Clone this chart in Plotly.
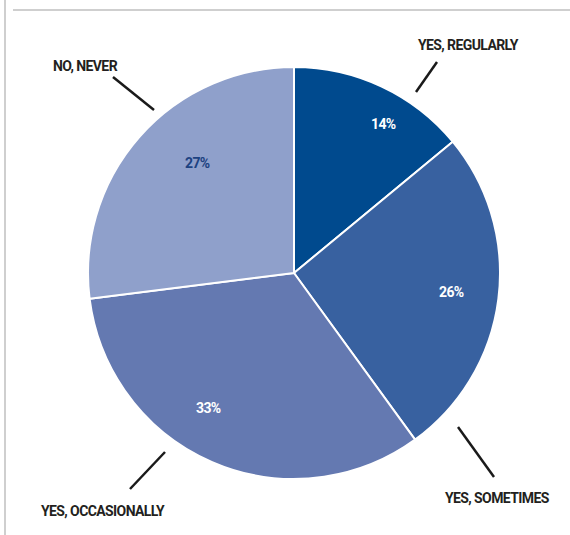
import plotly.graph_objects as go

categories = ["YES, REGULARLY", "YES, SOMETIMES", "YES, OCCASIONALLY", "NO, NEVER"]
values = [14, 26, 33, 27]
colors = ["#004a8e", "#3861a0", "#6479b1", "#8fa0cb"]
text_colors = ["#ffffff", "#ffffff", "#ffffff", "#1d4281"]

W, H = 570, 535
cx, cy, r = 294, 273, 206
FONT = "Roboto, Liberation Sans, sans-serif"

def px(x):
    return x / W

def py(y):
    return 1 - y / H

def cond(s):
    return f'<span style="letter-spacing:-0.6px">{s}</span>'

fig = go.Figure(go.Pie(
    labels=categories,
    values=values,
    sort=False,
    direction="clockwise",
    rotation=0,
    marker=dict(colors=colors, line=dict(color="#ffffff", width=2)),
    textinfo="none",
    hoverinfo="label+percent",
    showlegend=False,
    domain=dict(x=[px(cx - r), px(cx + r)], y=[py(cy + r), py(cy - r)]),
))

# text positions (pixels in the page)
pct_pos = [(383, 124), (451, 292), (208, 408), (197, 163)]
label_pos = [(468, 45), (497, 498), (103, 511), (85, 66)]
leader_lines = [((416, 92), (437, 62)), ((458, 427), (494, 477)),
                ((165, 452), (130, 489)), ((154, 110), (113, 77))]

annotations = []
for v, tc, (lx, ly) in zip(values, text_colors, pct_pos):
    annotations.append(dict(
        x=px(lx), y=py(ly), xref="paper", yref="paper", text=cond(f"{v}%"),
        showarrow=False, xanchor="center", yanchor="middle",
        font=dict(family=FONT, size=14, color=tc, weight="bold"),
    ))
for name, (lx, ly) in zip(categories, label_pos):
    annotations.append(dict(
        x=px(lx), y=py(ly), xref="paper", yref="paper", text=cond(name),
        showarrow=False, xanchor="center", yanchor="middle",
        font=dict(family=FONT, size=14, color="#231f20", weight="bold"),
    ))

shapes = []
for (x0, y0), (x1, y1) in leader_lines:
    shapes.append(dict(type="line", xref="paper", yref="paper",
                       x0=px(x0), y0=py(y0), x1=px(x1), y1=py(y1),
                       line=dict(color="#1a1a1a", width=2.5)))
# frame lines
shapes.append(dict(type="line", xref="paper", yref="paper",
                   x0=px(5), y0=py(0), x1=px(5), y1=py(535),
                   line=dict(color="#cfcfcf", width=2)))
shapes.append(dict(type="line", xref="paper", yref="paper",
                   x0=px(13), y0=py(10), x1=px(570), y1=py(10),
                   line=dict(color="#cfcfcf", width=2)))

fig.update_layout(
    width=W, height=H,
    margin=dict(l=0, r=0, t=0, b=0),
    paper_bgcolor="#ffffff",
    plot_bgcolor="#ffffff",
    annotations=annotations,
    shapes=shapes,
)

fig.write_html("out.html")
